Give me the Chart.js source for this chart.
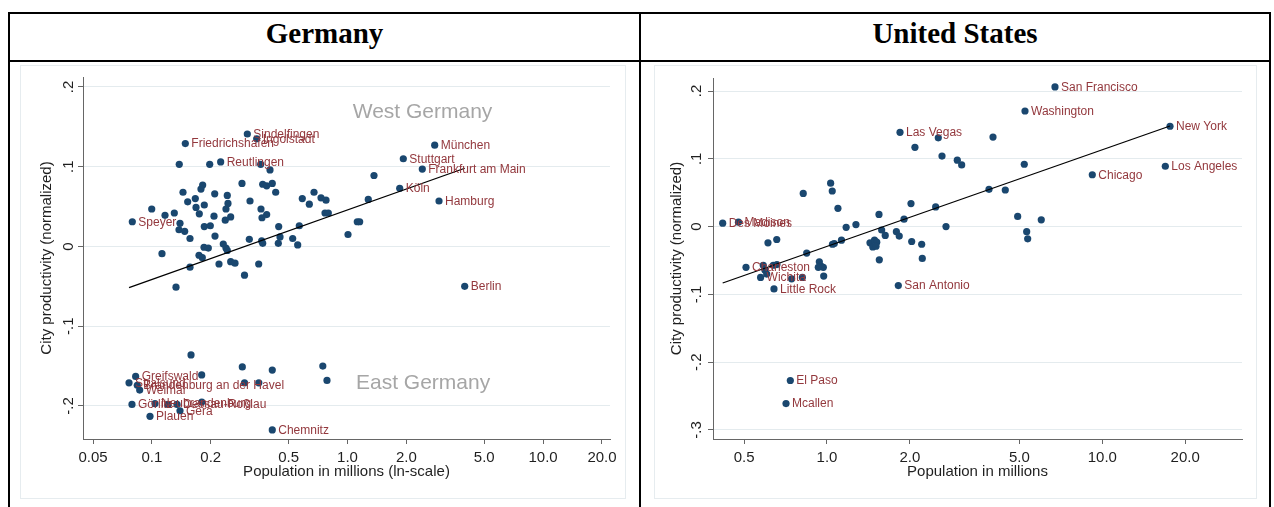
<!DOCTYPE html>
<html>
<head>
<meta charset="utf-8">
<title>City productivity and population: Germany and United States</title>
<script src="https://cdn.jsdelivr.net/npm/chart.js@4.4.1/dist/chart.umd.min.js"></script>
<style>
  html, body { margin: 0; padding: 0; background: #fff; width: 1274px; height: 507px; overflow: hidden; }
  .frame { position: absolute; left: 8px; top: 12px; width: 1263px; height: 530px; border: 2px solid #000; box-sizing: border-box; }
  .hrule { position: absolute; left: 8px; top: 60px; width: 1263px; height: 2px; background: #000; }
  .vrule { position: absolute; left: 639px; top: 12px; width: 2px; height: 530px; background: #000; }
  .title { position: absolute; top: 17px; height: 43px; line-height: 44px; text-align: center;
           font: bold 29px "Liberation Serif", "Times New Roman", serif; color: #000; }
  .graph { position: absolute; top: 65px; height: 434px; border: 1px solid #e6ecef; box-sizing: border-box; }
  canvas { position: absolute; }
</style>
</head>
<body>
<div class="frame"></div>
<div class="hrule"></div>
<div class="vrule"></div>
<div class="title" style="left:10px;width:629px;">Germany</div>
<div class="title" style="left:641px;width:628px;">United States</div>
<div class="graph" style="left:20px;width:606px;"></div>
<div class="graph" style="left:654px;width:603px;"></div>
<canvas id="de" width="626" height="444" style="left:12px;top:63px;"></canvas>
<canvas id="us" width="626" height="444" style="left:642px;top:63px;"></canvas>

<script>
// ---------- Germany: West German cities ----------
const deWestPop = [
  0.3075, 0.3434, 0.1482, 0.1380, 0.1975, 0.2247, 0.3599, 0.4016, 0.2888, 0.3685,
  0.3862, 0.4125, 0.4294, 0.1818, 0.1782, 0.1442, 0.2095, 0.2429, 0.1524, 0.1667,
  0.1853, 0.2449, 0.1681, 0.1747, 0.2392, 0.3174, 0.3612, 0.2077, 0.2528, 0.2372,
  0.3862, 0.3655, 0.0998, 0.1167, 0.1302, 0.0794, 0.1392, 0.1376, 0.1471, 0.1853,
  0.1989, 0.1566, 0.2102, 0.1126, 0.1847, 0.1943, 0.2317, 0.2392, 0.2429, 0.1741,
  0.1810, 0.1566, 0.2203, 0.2528, 0.2660, 0.3516, 0.2975, 0.1328, 0.3148, 0.3642,
  0.3685, 0.4449, 0.4518, 0.4428, 0.5246, 0.5564, 0.5670, 0.5873, 0.6379, 0.6743,
  0.7322, 0.7764, 0.7674, 0.7979, 1.006, 1.122, 1.154, 1.277, 1.366, 1.849,
  1.929, 2.412, 2.792, 2.937, 3.974
];
const deWestProd = [
  0.141, 0.135, 0.129, 0.103, 0.103, 0.106, 0.103, 0.096, 0.079, 0.078,
  0.076, 0.079, 0.068, 0.077, 0.072, 0.068, 0.066, 0.064, 0.056, 0.060,
  0.052, 0.054, 0.049, 0.041, 0.047, 0.057, 0.047, 0.038, 0.037, 0.033,
  0.040, 0.036, 0.047, 0.039, 0.042, 0.031, 0.029, 0.021, 0.019, 0.025,
  0.026, 0.010, 0.013, -0.009, -0.001, -0.002, 0.003, -0.002, -0.005, -0.011,
  -0.014, -0.026, -0.022, -0.019, -0.021, -0.022, -0.036, -0.051, 0.009, 0.007,
  0.004, 0.025, 0.012, 0.004, 0.010, 0.002, 0.026, 0.060, 0.053, 0.068,
  0.061, 0.058, 0.042, 0.042, 0.015, 0.031, 0.031, 0.059, 0.089, 0.073,
  0.110, 0.097, 0.127, 0.057, -0.050
];
const deWestName = [
  'Sindelfingen', 'Ingolstadt', 'Friedrichshafen', '', '', 'Reutlingen', '', '', '', '',
  '', '', '', '', '', '', '', '', '', '',
  '', '', '', '', '', '', '', '', '', '',
  '', '', '', '', '', 'Speyer', '', '', '', '',
  '', '', '', '', '', '', '', '', '', '',
  '', '', '', '', '', '', '', '', '', '',
  '', '', '', '', '', '', '', '', '', '',
  '', '', '', '', '', '', '', '', '', 'Köln',
  'Stuttgart', 'Frankfurt am Main', 'München', 'Hamburg', 'Berlin'
];

// ---------- Germany: East German cities ----------
const deEastPop = [
  0.1585, 0.0826, 0.0764, 0.0842, 0.0866, 0.1797, 0.2899, 0.4125, 0.7478, 0.7855,
  0.2975, 0.3520, 0.0791, 0.1037, 0.1209, 0.1344, 0.1392, 0.1799, 0.0978, 0.4125
];
const deEastProd = [
  -0.136, -0.163, -0.171, -0.174, -0.180, -0.161, -0.151, -0.155, -0.150, -0.168,
  -0.171, -0.171, -0.198, -0.197, -0.198, -0.198, -0.206, -0.195, -0.213, -0.230
];
const deEastName = [
  '', 'Greifswald', 'Stralsund', 'Brandenburg an der Havel', 'Weimar', '', '', '', '', '',
  '', '', 'Görlitz', 'Neubrandenburg', '', 'Dessau-Roßlau', 'Gera', '', 'Plauen', 'Chemnitz'
];

// Fitted line (end points) and group captions
const deFitPop = [0.0764, 3.974];
const deFitProd = [-0.0517, 0.0981];
const deGroupText = ['West Germany', 'East Germany'];
const deGroupPop = [1.063, 1.105];
const deGroupProd = [0.1683, -0.1715];

// ---------- United States ----------
const usPop = [
  0.418, 0.477, 0.6105, 0.657, 0.508, 0.820, 1.031, 1.045, 1.096, 0.844,
  1.047, 1.063, 1.129, 1.174, 1.274, 1.545, 1.549, 1.433, 1.488, 1.516,
  1.467, 1.507, 1.580, 1.628, 1.787, 1.830, 1.905, 2.031, 2.208, 2.219,
  2.019, 2.482, 2.706, 1.842, 2.087, 2.537, 2.617, 2.974, 3.085, 4.009,
  3.877, 4.443, 5.208, 4.928, 6.003, 5.313, 5.358, 6.733, 5.239, 17.62,
  16.94, 9.198, 0.587, 0.595, 0.638, 0.658, 0.574, 0.604, 0.744, 0.814,
  0.938, 0.949, 0.970, 0.930, 0.973, 0.642, 1.816, 0.736, 0.710
];
const usProd = [
  0.005, 0.0065, -0.024, -0.019, -0.060, 0.049, 0.064, 0.0525, 0.027, -0.039,
  -0.026, -0.025, -0.020, -0.001, 0.003, 0.018, -0.049, -0.024, -0.020, -0.023,
  -0.030, -0.029, -0.005, -0.013, -0.0075, -0.014, 0.011, -0.022, -0.026, -0.047,
  0.034, 0.029, 0.000, 0.139, 0.117, 0.131, 0.104, 0.098, 0.091, 0.132,
  0.055, 0.054, 0.092, 0.015, 0.010, -0.0075, -0.018, 0.206, 0.1705, 0.148,
  0.089, 0.0765, -0.057, -0.064, -0.057, -0.056, -0.075, -0.070, -0.077, -0.075,
  -0.052, -0.058, -0.060, -0.060, -0.073, -0.092, -0.087, -0.227, -0.261
];
const usName = [
  'Des Moines', 'Madison', '', '', 'Charleston', '', '', '', '', '',
  '', '', '', '', '', '', '', '', '', '',
  '', '', '', '', '', '', '', '', '', '',
  '', '', '', 'Las Vegas', '', '', '', '', '', '',
  '', '', '', '', '', '', '', 'San Francisco', 'Washington', 'New York',
  'Los Angeles', 'Chicago', '', '', '', '', 'Wichita', '', '', '',
  '', '', '', '', '', 'Little Rock', 'San Antonio', 'El Paso', 'Mcallen'
];
const usFitPop = [0.418, 17.62];
const usFitProd = [-0.0832, 0.1484];

// ---------- Axis ticks ----------
const deXTicks = [0.05, 0.1, 0.2, 0.5, 1, 2, 5, 10, 20];
const usXTicks = [0.5, 1, 2, 5, 10, 20];
const deYTicks = [-0.2, -0.1, 0, 0.1, 0.2];
const usYTicks = [-0.3, -0.2, -0.1, 0, 0.1, 0.2];

// ---------- Styling ----------
const SANS = '"Liberation Sans", Arial, Helvetica, sans-serif';
const NAVY = '#1a476f';
const LABEL_RED = '#93383d';
const AXIS_GREY = '#666666';
const GRID_GREY = '#e4ebee';
const TEXT_DARK = '#1f1f1f';

const zip = (xs, ys) => xs.map((x, i) => ({ x: x, y: ys[i] }));
const fmtPop = v => v < 0.1 ? v.toFixed(2) : v.toFixed(1);
const fmtProd = v => {
  if (Math.abs(v) < 1e-9) return '0';
  return (v < 0 ? '-' : '') + Math.abs(v).toFixed(1).replace(/^0/, '');
};

// Tick labels (Stata-style vertical y labels), axis titles, marker labels, captions
const panelText = {
  id: 'panelText',
  afterDatasetsDraw(chart, args, opts) {
    const ctx = chart.ctx;
    const xs = chart.scales.x, ys = chart.scales.y, area = chart.chartArea;
    ctx.save();

    // marker labels to the right of each named city
    ctx.font = '12px ' + SANS;
    ctx.fillStyle = LABEL_RED;
    ctx.textAlign = 'left';
    ctx.textBaseline = 'middle';
    chart.data.datasets.forEach((ds, di) => {
      if (!ds.names) return;
      chart.getDatasetMeta(di).data.forEach((pt, i) => {
        const name = ds.names[i];
        if (name) ctx.fillText(name, pt.x + 6, pt.y + 0.5);
      });
    });

    // group captions
    if (opts.groups) {
      ctx.font = '21px ' + SANS;
      ctx.fillStyle = '#a6a6a6';
      opts.groups.text.forEach((t, i) => {
        ctx.fillText(t, xs.getPixelForValue(opts.groups.pop[i]), ys.getPixelForValue(opts.groups.prod[i]));
      });
    }

    ctx.fillStyle = TEXT_DARK;
    ctx.font = '15px ' + SANS;
    ctx.textAlign = 'center';
    ctx.textBaseline = 'middle';

    // x tick labels
    xs.ticks.forEach(t => {
      ctx.fillText(fmtPop(t.value), xs.getPixelForValue(t.value), area.bottom + 18.5);
    });
    // x title
    ctx.fillText(opts.xTitle, (area.left + area.right) / 2, area.bottom + 33);

    // y tick labels, rotated
    ys.ticks.forEach(t => {
      ctx.save();
      ctx.translate(area.left - opts.yLabelGap, ys.getPixelForValue(t.value));
      ctx.rotate(-Math.PI / 2);
      ctx.fillText(fmtProd(t.value), 0, 0);
      ctx.restore();
    });
    // y title, rotated
    ctx.save();
    ctx.translate(area.left - 36, (area.top + area.bottom) / 2);
    ctx.rotate(-Math.PI / 2);
    ctx.fillText('City productivity (normalized)', 0, 0);
    ctx.restore();

    ctx.restore();
  }
};

function makePanel(canvasId, cfg) {
  const scatterSets = cfg.groups.map(g => ({
    type: 'scatter',
    data: zip(g.pop, g.prod),
    names: g.names,
    backgroundColor: NAVY,
    borderWidth: 0,
    pointRadius: 3.6,
    pointHoverRadius: 3.6,
    order: 2
  }));
  const fitSet = {
    type: 'line',
    data: zip(cfg.fitPop, cfg.fitProd),
    borderColor: '#000',
    borderWidth: 1.3,
    pointRadius: 0,
    fill: false,
    order: 1
  };

  return new Chart(document.getElementById(canvasId), {
    type: 'scatter',
    data: { datasets: scatterSets.concat([fitSet]) },
    options: {
      responsive: false,
      animation: false,
      devicePixelRatio: 1,
      events: [],
      layout: { autoPadding: false, padding: { top: cfg.padTop, right: cfg.padRight, left: 0, bottom: 0 } },
      plugins: {
        legend: { display: false },
        tooltip: { enabled: false },
        panelText: { xTitle: cfg.xTitle, yLabelGap: cfg.yLabelGap, groups: cfg.captions }
      },
      scales: {
        x: {
          type: 'logarithmic',
          min: cfg.xMin, max: cfg.xMax,
          bounds: 'data',
          afterBuildTicks: s => { s.ticks = cfg.xTicks.map(v => ({ value: v })); },
          afterFit: s => { s.height = 68; },
          ticks: { display: false },
          grid: { drawOnChartArea: false, drawTicks: true, tickLength: 5, tickColor: AXIS_GREY, lineWidth: 1 },
          border: { display: true, color: AXIS_GREY, width: 1 }
        },
        y: {
          type: 'linear',
          min: cfg.yMin, max: cfg.yMax,
          bounds: 'data',
          afterBuildTicks: s => { s.ticks = cfg.yTicks.map(v => ({ value: v })); },
          afterFit: s => { s.width = 71; },
          ticks: { display: false },
          grid: { color: GRID_GREY, drawTicks: true, tickLength: 5, tickColor: AXIS_GREY, lineWidth: 1 },
          border: { display: true, color: AXIS_GREY, width: 1 }
        }
      }
    },
    plugins: [panelText]
  });
}

makePanel('de', {
  groups: [
    { pop: deWestPop, prod: deWestProd, names: deWestName },
    { pop: deEastPop, prod: deEastProd, names: deEastName }
  ],
  fitPop: deFitPop, fitProd: deFitProd,
  captions: { text: deGroupText, pop: deGroupPop, prod: deGroupProd },
  xTicks: deXTicks, yTicks: deYTicks,
  xMin: 0.04444, xMax: 21.98, yMin: -0.2414, yMax: 0.2125,
  padTop: 14, padRight: 28, yLabelGap: 14.5,
  xTitle: 'Population in millions (ln-scale)'
});

makePanel('us', {
  groups: [{ pop: usPop, prod: usProd, names: usName }],
  fitPop: usFitPop, fitProd: usFitProd,
  captions: null,
  xTicks: usXTicks, yTicks: usYTicks,
  xMin: 0.3855, xMax: 32.17, yMin: -0.3133, yMax: 0.2192,
  padTop: 15, padRight: 26, yLabelGap: 16.5,
  xTitle: 'Population in millions'
});
</script>
</body>
</html>
